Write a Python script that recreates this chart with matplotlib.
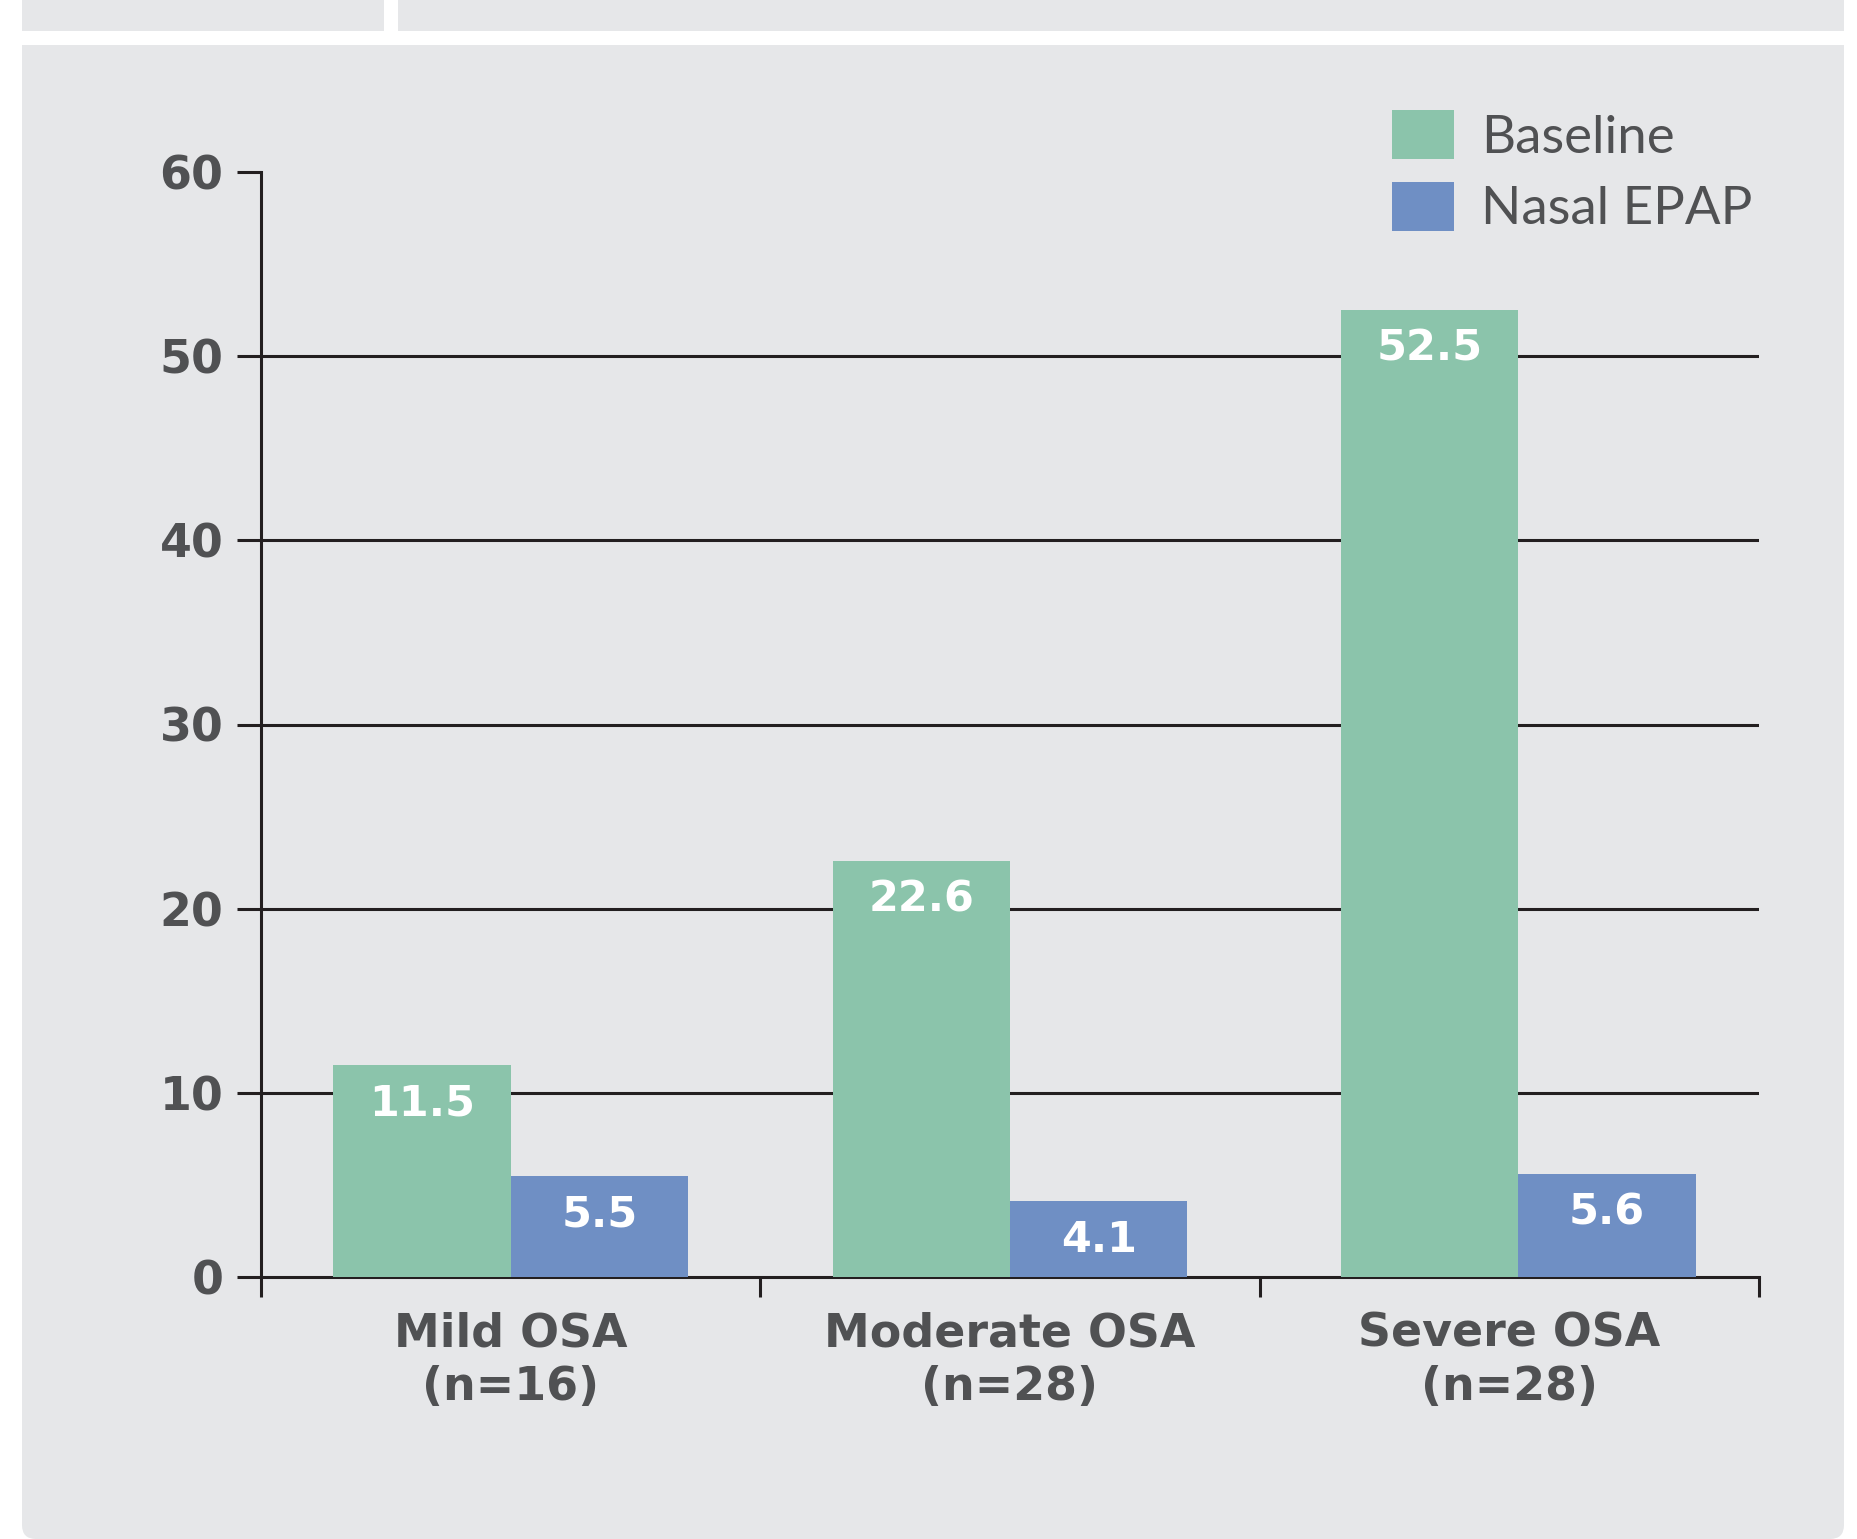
import numpy as np
import matplotlib
matplotlib.use("Agg")
import matplotlib.pyplot as plt
from matplotlib.patches import Rectangle, FancyBboxPatch, Patch
from matplotlib.transforms import IdentityTransform

# data
groups = ["Mild OSA\n(n=16)", "Moderate OSA\n(n=28)", "Severe OSA\n(n=28)"]
baseline = [11.5, 22.6, 52.5]
nasal_epap = [5.5, 4.1, 5.6]
series_names = ["Baseline", "Nasal EPAP"]
yticks = [0, 10, 20, 30, 40, 50, 60]

bg = "#e6e7e9"
green = "#8bc4ab"
blue = "#6f8fc4"
txt = "#505153"
ink = "#231f20"

plt.rcParams["font.family"] = ["Lato", "DejaVu Sans"]
bold_font = ["DejaVu Sans"]

W, H = 1858, 1539
fig = plt.figure(figsize=(W / 100, H / 100), dpi=100)
fig.patch.set_facecolor("white")

# background panels, in pixels from the top-left corner
def px_rect(x0, y0, x1, y1):
    return Rectangle((x0 / W, 1 - y1 / H), (x1 - x0) / W, (y1 - y0) / H,
                     transform=fig.transFigure, facecolor=bg, edgecolor="none", zorder=-10)

fig.patches.append(px_rect(22, 0, 384, 31))
fig.patches.append(px_rect(398, 0, 1844, 31))
fig.patches.append(px_rect(22, 45, 1844, 1480))
# rounded bottom corners
fig.patches.append(FancyBboxPatch((22, 0), 1822, 100, boxstyle="round,pad=0,rounding_size=14",
                                  transform=IdentityTransform(), facecolor=bg,
                                  edgecolor="none", zorder=-10))

ax = fig.add_axes([261 / W, 1 - 1277 / H, (1759 - 261) / W, (1277 - 172) / H])
ax.set_facecolor("none")

x = np.arange(len(groups)) + 0.5 + np.array([0.0, 0.0, 0.018])
bw = 0.355
ax.bar(x - bw / 2, baseline, bw, color=green, zorder=3, label=series_names[0])
ax.bar(x + bw / 2, nasal_epap, bw, color=blue, zorder=3, label=series_names[1])

for xi, v in zip(x - bw / 2, baseline):
    ax.text(xi, v - 2.1, f"{v:.1f}", ha="center", va="center", color="white",
            fontsize=31, fontweight="bold", family=bold_font, zorder=4)
for xi, v in zip(x + bw / 2, nasal_epap):
    ax.text(xi, v - 2.1, f"{v:.1f}", ha="center", va="center", color="white",
            fontsize=31, fontweight="bold", family=bold_font, zorder=4)

for g in yticks[1:-1]:
    ax.axhline(g, color=ink, lw=2.2, zorder=1)

ax.set_xlim(0, 3)
ax.set_ylim(0, 60)
ax.set_yticks(yticks)
ax.set_xticks(np.arange(len(groups)) + 0.5)
ax.set_xticklabels(groups, linespacing=1.25)
ax.set_xticks([0, 1, 2, 3], minor=True)

ax.tick_params(axis="y", length=17, width=2.2, color=ink, pad=10,
               labelsize=33, labelcolor=txt)
ax.tick_params(axis="x", which="major", length=0, pad=25, labelsize=33, labelcolor=txt)
ax.tick_params(axis="x", which="minor", length=14.5, width=2.2, color=ink)
for lab in ax.get_yticklabels() + ax.get_xticklabels():
    lab.set_fontweight("bold")
    lab.set_family(bold_font)

for s in ["top", "right"]:
    ax.spines[s].set_visible(False)
for s in ["left", "bottom"]:
    ax.spines[s].set_color(ink)
    ax.spines[s].set_linewidth(2.2)

handles = [Patch(facecolor=green, edgecolor="none"), Patch(facecolor=blue, edgecolor="none")]
leg = fig.legend(handles, series_names, loc="upper left",
                 bbox_to_anchor=(1392 / W, 1 - 110 / H), frameon=False,
                 fontsize=38, handlelength=1.17, handleheight=1.06,
                 handletextpad=0.52, labelspacing=0.38, borderpad=0,
                 borderaxespad=0)
for t in leg.get_texts():
    t.set_color(txt)

fig.savefig("out.png", dpi=100, facecolor="white")
